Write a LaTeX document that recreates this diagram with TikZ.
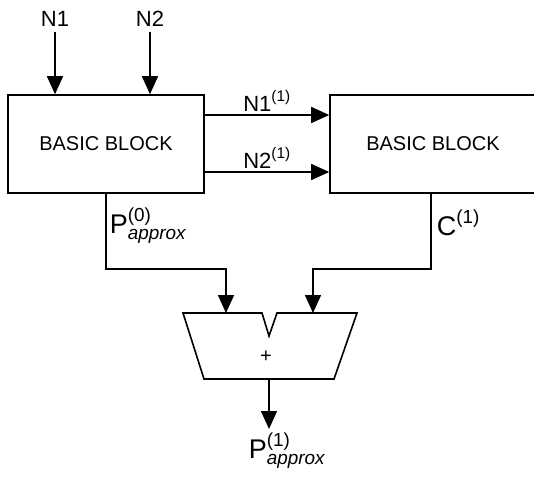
\documentclass[tikz,border=0pt]{standalone}
\usepackage{amsmath}
\usepackage{fontspec}
\setmainfont{Liberation Sans}
\usetikzlibrary{positioning,arrows.meta,calc}

\begin{document}
\begin{tikzpicture}[
   x=1pt, y=-1pt,
   line width=1.6pt,
   block/.style = {draw, minimum width=196pt, minimum height=98pt,
                   inner sep=0pt, font=\fontsize{20}{22}\selectfont},
   lbl/.style = {font=\fontsize{22}{24}\selectfont, inner sep=1pt},
   plbl/.style = {font=\fontsize{27}{29}\selectfont, inner sep=0pt},
   arr/.style = {-{Triangle[length=18pt,width=16pt]}}
]
\useasboundingbox (0,0) rectangle (534,476);
\node[block]                   (lb)  at (106,144) {BASIC BLOCK};
\node[block, minimum width=206pt] (rb) at (433,144) {BASIC BLOCK};

\node[lbl] (n1) at (55,19)  {N1};
\node[lbl] (n2) at (150,19) {N2};
\draw[arr] ([yshift=-4pt]n1.south) -- (n1 |- lb.north);
\draw[arr] ([yshift=-4pt]n2.south) -- (n2 |- lb.north);

\draw[arr] ([yshift=29pt]lb.east) -- node[lbl, above=2pt]{$\text{N1}^{\text{(1)}}$} ([yshift=29pt]lb.east -| rb.west);
\draw[arr] ([yshift=-28pt]lb.east) -- node[lbl, above=2pt]{$\text{N2}^{\text{(1)}}$} ([yshift=-28pt]lb.east -| rb.west);

% adder
\coordinate (addl) at (226,313);
\coordinate (addr) at (313,313);
\coordinate (addo) at (269,379);
\draw[line join=miter] (183,313) -- (262,313) -- (269,336) -- (277,313)
   -- (357,313) -- (334,379) -- (204,379) -- cycle;
\node[font=\fontsize{20}{22}\selectfont] (plus) at (266,357) {+};

\draw[arr] (lb.south) |- (addl |- 0,269) -- (addl);
\draw[arr] ([xshift=-2pt]rb.south) |- (addr |- 0,269) -- (addr);
\draw[arr] (addo) -- ++(0,50) coordinate (outp);

\node[plbl, anchor=north west] (p0) at (109,207) {$\text{P}^{\text{(0)}}_{\textit{approx}}$};
\node[plbl, anchor=north west] (c1) at (436,209) {$\text{C}^{\text{(1)}}$};
\node[plbl, anchor=north west] (p1) at (248,432) {$\text{P}^{\text{(1)}}_{\textit{approx}}$};
\end{tikzpicture}
\end{document}
